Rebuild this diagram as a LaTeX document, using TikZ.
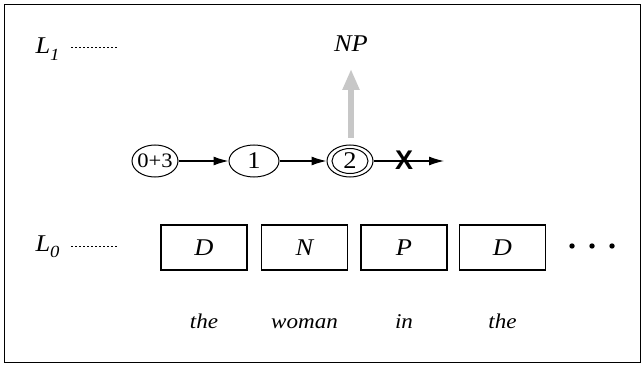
\documentclass[tikz,border=0pt]{standalone}
\usepackage{fontspec}
\setmainfont{Liberation Serif}[FakeStretch=1.1]
\setsansfont{Liberation Sans}
\usetikzlibrary{arrows.meta,shapes.geometric}
\tikzset{
  state/.style={draw,ellipse,line width=1pt,minimum width=48pt,minimum height=32pt,inner sep=0pt,font=\fontsize{24}{24}\selectfont},
  cat/.style={draw,rectangle,line width=1.1pt,minimum width=86pt,minimum height=45pt,inner sep=0pt,font=\fontsize{24}{24}\selectfont\itshape},
  word/.style={font=\fontsize{21}{21}\selectfont\itshape},
  lvl/.style={font=\fontsize{24}{24}\selectfont\itshape},
  dots/.style={line width=1pt,dash pattern=on 2pt off 2pt},
  trans/.style={line width=1.2pt,-{Latex[length=15pt,width=9pt]}},
}
\begin{document}
\begin{tikzpicture}[x=1pt,y=-1pt]
\useasboundingbox (0,0) rectangle (644,366);
\draw[line width=1pt] (4.5,4.5) rectangle (640,362);
% levels
\node[lvl,anchor=base west] (l1) at (32,54) {L\raisebox{-0.6ex}{\fontsize{17}{17}\selectfont 1}};
\coordinate (l1a) at (71,48);
\coordinate (l1b) at (118,48);
\draw[dots] (l1a) -- (l1b);
\node[lvl,anchor=base west] (l0) at (32,251) {L\raisebox{-0.6ex}{\fontsize{17}{17}\selectfont 0}};
\coordinate (l0a) at (71,246);
\coordinate (l0b) at (118,246);
\draw[dots] (l0a) -- (l0b);
% states
\node[state,minimum width=46pt,inner xsep=-4.5pt,font=\fontsize{20.5}{20.5}\selectfont] (s0) at (155,161) {0+3};
\node[state,minimum width=50pt] (s1) at (254,161) {1};
\node[state,minimum width=46pt] (s2) at (350,161) {};
\node[draw,ellipse,line width=1pt,minimum width=36pt,minimum height=25pt,inner sep=0pt,font=\fontsize{24}{24}\selectfont] (s2i) at (350,161) {2};
\coordinate (end) at (444,161);
\draw[trans] (s0) -- (s1);
\draw[trans] (s1) -- (s2);
\draw[trans] (s2) -- (end);
\node[font=\fontsize{27}{27}\selectfont\sffamily\bfseries] (x) at (404,160) {X};
% NP
\node[lvl] (np) at (351,44) {NP};
\coordinate (up0) at (351,138);
\coordinate (up1) at (351,69);
\draw[line width=6.5pt,color=black!22,-{Triangle[length=21pt,width=16pt]}] (up0) -- (up1);
% categories
\node[cat] (c1) at (204,247.5) {D};
\node[cat] (c2) at (304.5,247.5) {N};
\node[cat] (c3) at (404,247.5) {P};
\node[cat] (c4) at (502.5,247.5) {D};
\fill (572,246) circle (2.7pt) (592,246) circle (2.7pt) (612,246) circle (2.7pt);
% words
\node[word,anchor=base] (w1) at (204,328) {the};
\node[word,anchor=base] (w2) at (304.5,328) {woman};
\node[word,anchor=base] (w3) at (404,328) {in};
\node[word,anchor=base] (w4) at (502.5,328) {the};
\end{tikzpicture}
\end{document}
